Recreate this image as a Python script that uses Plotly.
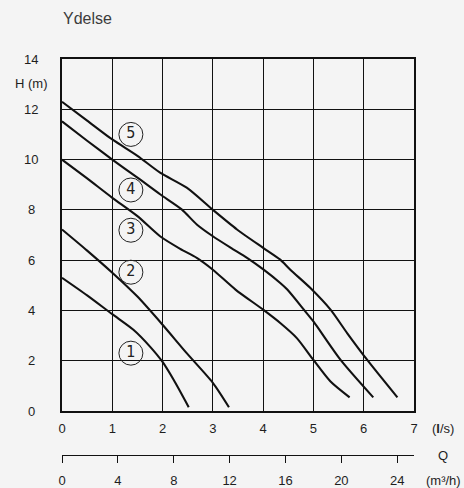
import plotly.graph_objects as go

# ---------------- data ----------------
q1_x = [0, 0.5, 1.0, 1.42, 1.75, 2.0, 2.22, 2.52]
q1_h = [5.3, 4.6, 3.85, 3.23, 2.56, 1.95, 1.24, 0.15]

q2_x = [0, 0.5, 1.0, 1.5, 2.0, 2.48, 3.0, 3.32]
q2_h = [7.22, 6.38, 5.5, 4.55, 3.43, 2.3, 1.12, 0.15]

q3_x = [0, 0.5, 1.0, 1.5, 1.95, 2.35, 2.68, 3.0, 3.45, 4.0, 4.34, 4.67, 5.0, 5.34, 5.72]
q3_h = [10.0, 9.25, 8.48, 7.75, 6.95, 6.45, 6.09, 5.62, 4.83, 4.03, 3.5, 2.9, 2.03, 1.17, 0.54]

q4_x = [0, 0.5, 1.0, 1.5, 1.95, 2.38, 2.68, 3.0, 3.35, 3.68, 4.01, 4.34, 4.48, 4.81, 5.0, 5.54, 6.19]
q4_h = [11.52, 10.75, 10.0, 9.28, 8.62, 8.02, 7.42, 6.95, 6.5, 6.09, 5.62, 5.09, 4.83, 4.03, 3.56, 2.03, 0.54]

q5_x = [0, 0.5, 1.0, 1.5, 1.95, 2.48, 3.0, 3.48, 4.0, 4.34, 4.54, 4.94, 5.34, 5.67, 6.07, 6.67]
q5_h = [12.3, 11.55, 10.8, 10.15, 9.48, 8.88, 8.0, 7.22, 6.49, 6.02, 5.62, 4.89, 4.03, 3.1, 2.03, 0.54]

curves = [(q1_x, q1_h), (q2_x, q2_h), (q3_x, q3_h), (q4_x, q4_h), (q5_x, q5_h)]

label_text = ["1", "2", "3", "4", "5"]
label_x = [1.37, 1.37, 1.37, 1.37, 1.37]
label_h = [2.3, 5.52, 7.19, 8.79, 11.0]

x_ticks = [0, 1, 2, 3, 4, 5, 6, 7]
y_ticks = [0, 2, 4, 6, 8, 10, 12, 14]
q_ticks = [0, 4, 8, 12, 16, 20, 24]
LS_TO_M3H = 3.6

# ---------------- layout constants ----------------
W, H = 464, 488
ML, MR, MT, MB = 62, 50, 59, 33
PW = W - ML - MR
PH = H - MT - MB
plot_bottom_px = 411
ydom0 = (H - MB - plot_bottom_px) / PH


def px_x(px):
    return (px - ML) / PW


def px_y(py):
    return (H - MB - py) / PH


BG = "#f4f4f4"
INK = "#111111"
TXT = "#1e1e1e"
FONT = "Liberation Sans, Arial, sans-serif"

fig = go.Figure()

for cx, ch in curves:
    fig.add_trace(go.Scatter(
        x=cx, y=ch, mode="lines",
        line=dict(color=INK, width=2.1, shape="spline", smoothing=0.7),
        hoverinfo="skip", showlegend=False,
    ))

fig.add_trace(go.Scatter(
    x=label_x, y=label_h, mode="markers+text", text=label_text,
    textposition="middle center",
    textfont=dict(family="Liberation Sans Narrow, DejaVu Sans Condensed, Liberation Sans", size=16, color="#222"),
    marker=dict(symbol="circle-open", size=24, color="#222", line=dict(width=1, color="#222")),
    hoverinfo="skip", showlegend=False,
))

# invisible trace to carry the m3/h axis
fig.add_trace(go.Scatter(
    x=q_ticks, y=[0] * len(q_ticks), xaxis="x2", yaxis="y", mode="markers",
    marker=dict(opacity=0), hoverinfo="skip", showlegend=False,
))

fig.update_layout(
    width=W, height=H,
    margin=dict(l=ML, r=MR, t=MT, b=MB, pad=0, autoexpand=False),
    paper_bgcolor=BG, plot_bgcolor=BG,
    font=dict(family=FONT, size=13, color=TXT),
    xaxis=dict(
        range=[0, 7], tickvals=x_ticks, ticktext=[str(v) for v in x_ticks],
        showgrid=True, gridcolor=INK, gridwidth=1,
        showline=True, linecolor=INK, linewidth=1.8, mirror=True,
        zeroline=False, ticks="outside", ticklen=4, tickcolor="rgba(0,0,0,0)",
        tickfont=dict(size=13, color=TXT), anchor="y", automargin=False,
        ticklabelstandoff=0,
    ),
    xaxis2=dict(
        range=[0, 7 * LS_TO_M3H], tickvals=q_ticks, ticktext=[str(v) for v in q_ticks],
        overlaying="x", anchor="free", position=0, side="bottom",
        showgrid=False, zeroline=False, automargin=False,
        showline=True, linecolor=INK, linewidth=1.2,
        ticks="outside", ticklen=7, tickwidth=1.2, tickcolor=INK,
        tickfont=dict(size=13, color=TXT), ticklabelstandoff=6,
    ),
    yaxis=dict(
        range=[0, 14], domain=[ydom0, 1], tickvals=y_ticks,
        showticklabels=False, automargin=False,
        showgrid=True, gridcolor=INK, gridwidth=1,
        showline=True, linecolor=INK, linewidth=1.8, mirror=True,
        zeroline=False, ticks="",
    ),
)

ann = []
for v in y_ticks:
    ann.append(dict(text=str(v), xref="paper", yref="y", x=px_x(31), y=v,
                    xanchor="center", yanchor="middle", showarrow=False,
                    font=dict(size=13, color=TXT)))
ann.append(dict(text="Ydelse", xref="paper", yref="paper", x=px_x(60.5), y=px_y(18.5),
                xanchor="left", yanchor="middle", showarrow=False,
                font=dict(size=16, color="#3c3c3c")))
ann.append(dict(text="H (m)", xref="paper", yref="paper", x=px_x(31.7), y=px_y(83.3),
                xanchor="center", yanchor="middle", showarrow=False,
                font=dict(size=13, color=TXT)))
ann.append(dict(text="(<b>l</b>/s)", xref="paper", yref="paper", x=px_x(442.5), y=px_y(428),
                xanchor="center", yanchor="middle", showarrow=False,
                font=dict(size=13, color=TXT)))
ann.append(dict(text="Q", xref="paper", yref="paper", x=px_x(442.5), y=px_y(455.5),
                xanchor="center", yanchor="middle", showarrow=False,
                font=dict(size=13, color=TXT)))
ann.append(dict(text="(m³/h)", xref="paper", yref="paper", x=px_x(443.7), y=px_y(480.5),
                xanchor="center", yanchor="middle", showarrow=False,
                font=dict(size=13, color=TXT)))
fig.update_layout(annotations=ann)

fig.write_html(
    "out.html",
    config={"displayModeBar": False},
    post_script="document.body.style.margin='0';document.body.style.background='#f4f4f4';document.body.style.overflow='hidden';",
)
